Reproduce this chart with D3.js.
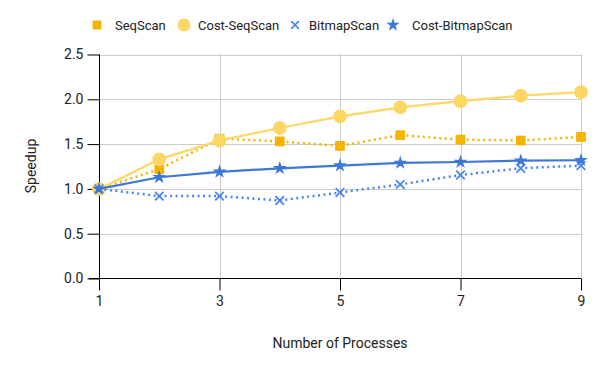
<!DOCTYPE html>
<html>
<head>
<meta charset="utf-8">
<script src="https://cdn.jsdelivr.net/npm/d3@7.9.0/dist/d3.min.js"></script>
<style>
  body { margin: 0; background: #fff; }
  svg { display: block; font-family: Roboto, sans-serif; }
</style>
</head>
<body>
<svg id="chart" width="600" height="371"></svg>
<script>
// data
const processes = [1, 2, 3, 4, 5, 6, 7, 8, 9];
const seqScan = [1.0, 1.22, 1.56, 1.53, 1.48, 1.60, 1.55, 1.54, 1.58];
const costSeqScan = [1.0, 1.33, 1.54, 1.68, 1.81, 1.91, 1.98, 2.04, 2.08];
const bitmapScan = [1.0, 0.92, 0.92, 0.87, 0.96, 1.05, 1.155, 1.23, 1.26];
const costBitmapScan = [1.0, 1.13, 1.19, 1.23, 1.26, 1.29, 1.30, 1.315, 1.32];
const xTicks = [1, 3, 5, 7, 9];
const yTicks = [0, 0.5, 1.0, 1.5, 2.0, 2.5];

const svg = d3.select('#chart');
const x = d3.scaleLinear().domain([1, 9]).range([99, 581]);
const y = d3.scaleLinear().domain([0, 2.5]).range([278.5, 54.5]);

// gridlines
svg.append('g').selectAll('line').data(yTicks.slice(1)).join('line')
  .attr('x1', 99).attr('x2', 581)
  .attr('y1', d => Math.round(y(d)) + 0.5).attr('y2', d => Math.round(y(d)) + 0.5)
  .attr('stroke', '#cccccc').attr('stroke-width', 1);
svg.append('g').selectAll('line').data(xTicks.slice(1)).join('line')
  .attr('x1', d => Math.round(x(d)) + 0.5).attr('x2', d => Math.round(x(d)) + 0.5)
  .attr('y1', 54).attr('y2', 278)
  .attr('stroke', '#cccccc').attr('stroke-width', 1);

// minor ticks (thirds)
const xMinor = d3.range(1, 9.001, 2 / 3);
const yMinor = d3.range(0, 2.5001, 0.5 / 3);

// y axis
const yAxis = svg.append('g').attr('transform', 'translate(99.5,0)');
yAxis.call(d3.axisLeft(y).tickValues(yMinor).tickSize(5).tickFormat(''))
  .call(g => g.select('.domain').remove());
yAxis.call(d3.axisLeft(y).tickValues(yTicks).tickSize(12).tickPadding(4)
  .tickFormat(d3.format('.1f')))
  .call(g => g.select('.domain').attr('d', `M0,${y(2.5)}V${y(0)}`).attr('stroke', '#000'))
  .call(g => g.selectAll('text').attr('font-size', 14).attr('fill', '#222').attr('font-family', 'Roboto'));

// x axis
const xAxis = svg.append('g').attr('transform', 'translate(0,278.5)');
xAxis.call(d3.axisBottom(x).tickValues(xMinor).tickSize(6).tickFormat(''))
  .call(g => g.select('.domain').remove());
xAxis.call(d3.axisBottom(x).tickValues(xTicks).tickSize(12).tickPadding(6).tickFormat(d3.format('d')))
  .call(g => g.select('.domain').attr('d', `M${x(1) - 10},0H${x(9)}`).attr('stroke', '#000'))
  .call(g => g.selectAll('text').attr('font-size', 14).attr('fill', '#222').attr('font-family', 'Roboto'));
svg.selectAll('.tick line').attr('stroke', '#000');

// titles
svg.append('text').attr('x', 340).attr('y', 348).attr('text-anchor', 'middle')
  .attr('font-size', 14).attr('fill', '#222').text('Number of Processes');
svg.append('text').attr('transform', 'translate(36,166) rotate(-90)').attr('text-anchor', 'middle')
  .attr('font-size', 14).attr('fill', '#222').text('Speedup');

const series = [
  { name: 'SeqScan', values: seqScan, color: '#f4b400', dash: '2,3.5', symbol: d3.symbolSquare, size: 95 },
  { name: 'Cost-SeqScan', values: costSeqScan, color: '#fdd663', dash: null, symbol: d3.symbolCircle, size: 150 },
  { name: 'BitmapScan', values: bitmapScan, color: '#4a86f0', dash: '2,3.5', symbol: d3.symbolX, size: 50 },
  { name: 'Cost-BitmapScan', values: costBitmapScan, color: '#3c78d8', dash: null, symbol: d3.symbolStar, size: 60 }
];

const line = d3.line().x((d, i) => x(processes[i])).y(d => y(d));

series.forEach(s => {
  svg.append('path').datum(s.values).attr('d', line)
    .attr('fill', 'none').attr('stroke', s.color).attr('stroke-width', s.dash ? 2.5 : 2.2)
    .attr('stroke-dasharray', s.dash);
  const sym = d3.symbol().type(s.symbol).size(s.size);
  svg.append('g').selectAll('path').data(s.values).join('path')
    .attr('transform', (d, i) => `translate(${x(processes[i])},${y(d)})`)
    .attr('d', sym)
    .attr('fill', s.symbol === d3.symbolX ? 'none' : s.color)
    .attr('stroke', s.symbol === d3.symbolX ? s.color : 'none')
    .attr('stroke-width', 1.8);
});

// legend
const legendX = [97, 184, 295, 393];
const legend = svg.append('g');
series.forEach((s, i) => {
  const g = legend.append('g').attr('transform', `translate(${legendX[i]},25)`);
  const legendSize = { 'SeqScan': 80, 'Cost-SeqScan': 130, 'BitmapScan': 40, 'Cost-BitmapScan': 55 }[s.name];
  g.append('path').attr('d', d3.symbol().type(s.symbol).size(legendSize))
    .attr('fill', s.symbol === d3.symbolX ? 'none' : s.color)
    .attr('stroke', s.symbol === d3.symbolX ? s.color : 'none')
    .attr('stroke-width', 1.6);
  g.append('text').attr('x', i === 3 ? 19 : (i === 0 ? 18 : 14)).attr('y', 5)
    .attr('font-size', 13).attr('fill', '#222').text(s.name);
});
</script>
</body>
</html>
